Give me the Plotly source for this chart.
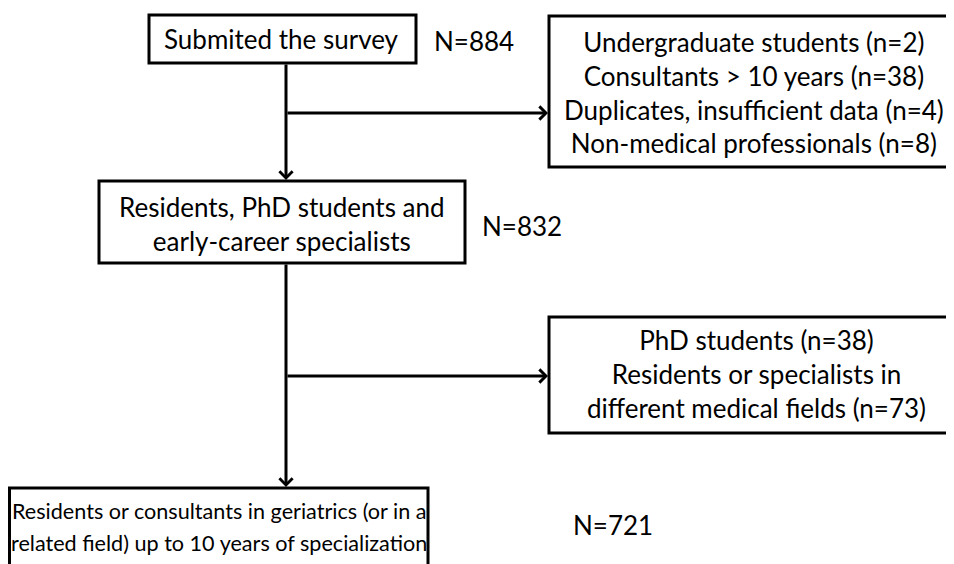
import plotly.graph_objects as go

# Flowchart content
box_labels = [
    "Submited the survey",
    "Residents, PhD students and<br>early-career specialists",
]
final_lines = [
    "Residents or consultants in geriatrics (or in a",
    "related field) up to 10 years of specialization",
]
box_counts = ["N=884", "N=832", "N=721"]
excluded_1 = [
    "Undergraduate students (n=2)",
    "Consultants > 10 years (n=38)",
    "Duplicates, insufficient data (n=4)",
    "Non-medical professionals (n=8)",
]
excluded_2 = [
    "PhD students (n=38)",
    "Residents or specialists in",
    "different medical fields (n=73)",
]

FONT = "Lato, Open Sans, sans-serif"
FS = 26
LW = 3

fig = go.Figure()

# boxes (x0, y0, x1, y1)  -- page has an 8px body margin, axes start at 8
boxes = [
    (149, 15, 416, 63),
    (99, 181, 465, 263),
    (9.5, 488, 428, 600),
    (549, 16, 952.5, 167),
    (549, 317, 952.5, 433),
]
for x0, y0, x1, y1 in boxes:
    fig.add_shape(type="rect", x0=x0, y0=y0, x1=x1, y1=y1,
                  line=dict(color="black", width=LW), fillcolor="white", layer="below")

# main box texts
main_pos = [(281, 39), (282, 224)]
for (x, y), t in zip(main_pos, box_labels):
    fig.add_annotation(x=x, y=y, text=t, showarrow=False,
                       font=dict(family=FONT, size=FS, color="black"))

for y, t in zip([511, 543], final_lines):
    fig.add_annotation(x=219, y=y, text=t, showarrow=False,
                       font=dict(family=FONT, size=21.6, color="black"))

count_pos = [(474, 41), (522, 226), (613, 525)]
for (x, y), t in zip(count_pos, box_counts):
    fig.add_annotation(x=x, y=y, text=t, showarrow=False,
                       font=dict(family=FONT, size=FS, color="black"))

fig.add_annotation(x=754, y=92, text="<br>".join(excluded_1), showarrow=False,
                   font=dict(family=FONT, size=FS, color="black"))
fig.add_annotation(x=756, y=374, text="<br>".join(excluded_2), showarrow=False,
                   font=dict(family=FONT, size=FS, color="black"))

# arrows (tail -> head)
arrows = [
    ((286, 63), (286, 180)),
    ((286, 113), (548, 113)),
    ((286, 263), (286, 487)),
    ((286, 376), (548, 376)),
]
for (tx, ty), (hx, hy) in arrows:
    fig.add_annotation(x=hx, y=hy, ax=tx, ay=ty, xref="x", yref="y",
                       axref="x", ayref="y", showarrow=True, text="",
                       arrowhead=4, arrowsize=0.85, arrowwidth=3, arrowcolor="black",
                       standoff=0, startstandoff=0)

fig.update_xaxes(range=[8, 954], visible=False, fixedrange=True)
fig.update_yaxes(range=[564, 8], visible=False, fixedrange=True)
fig.update_layout(width=946, height=556, margin=dict(l=0, r=0, t=0, b=0),
                  plot_bgcolor="white", paper_bgcolor="white", showlegend=False)

fig.write_html("out.html")
